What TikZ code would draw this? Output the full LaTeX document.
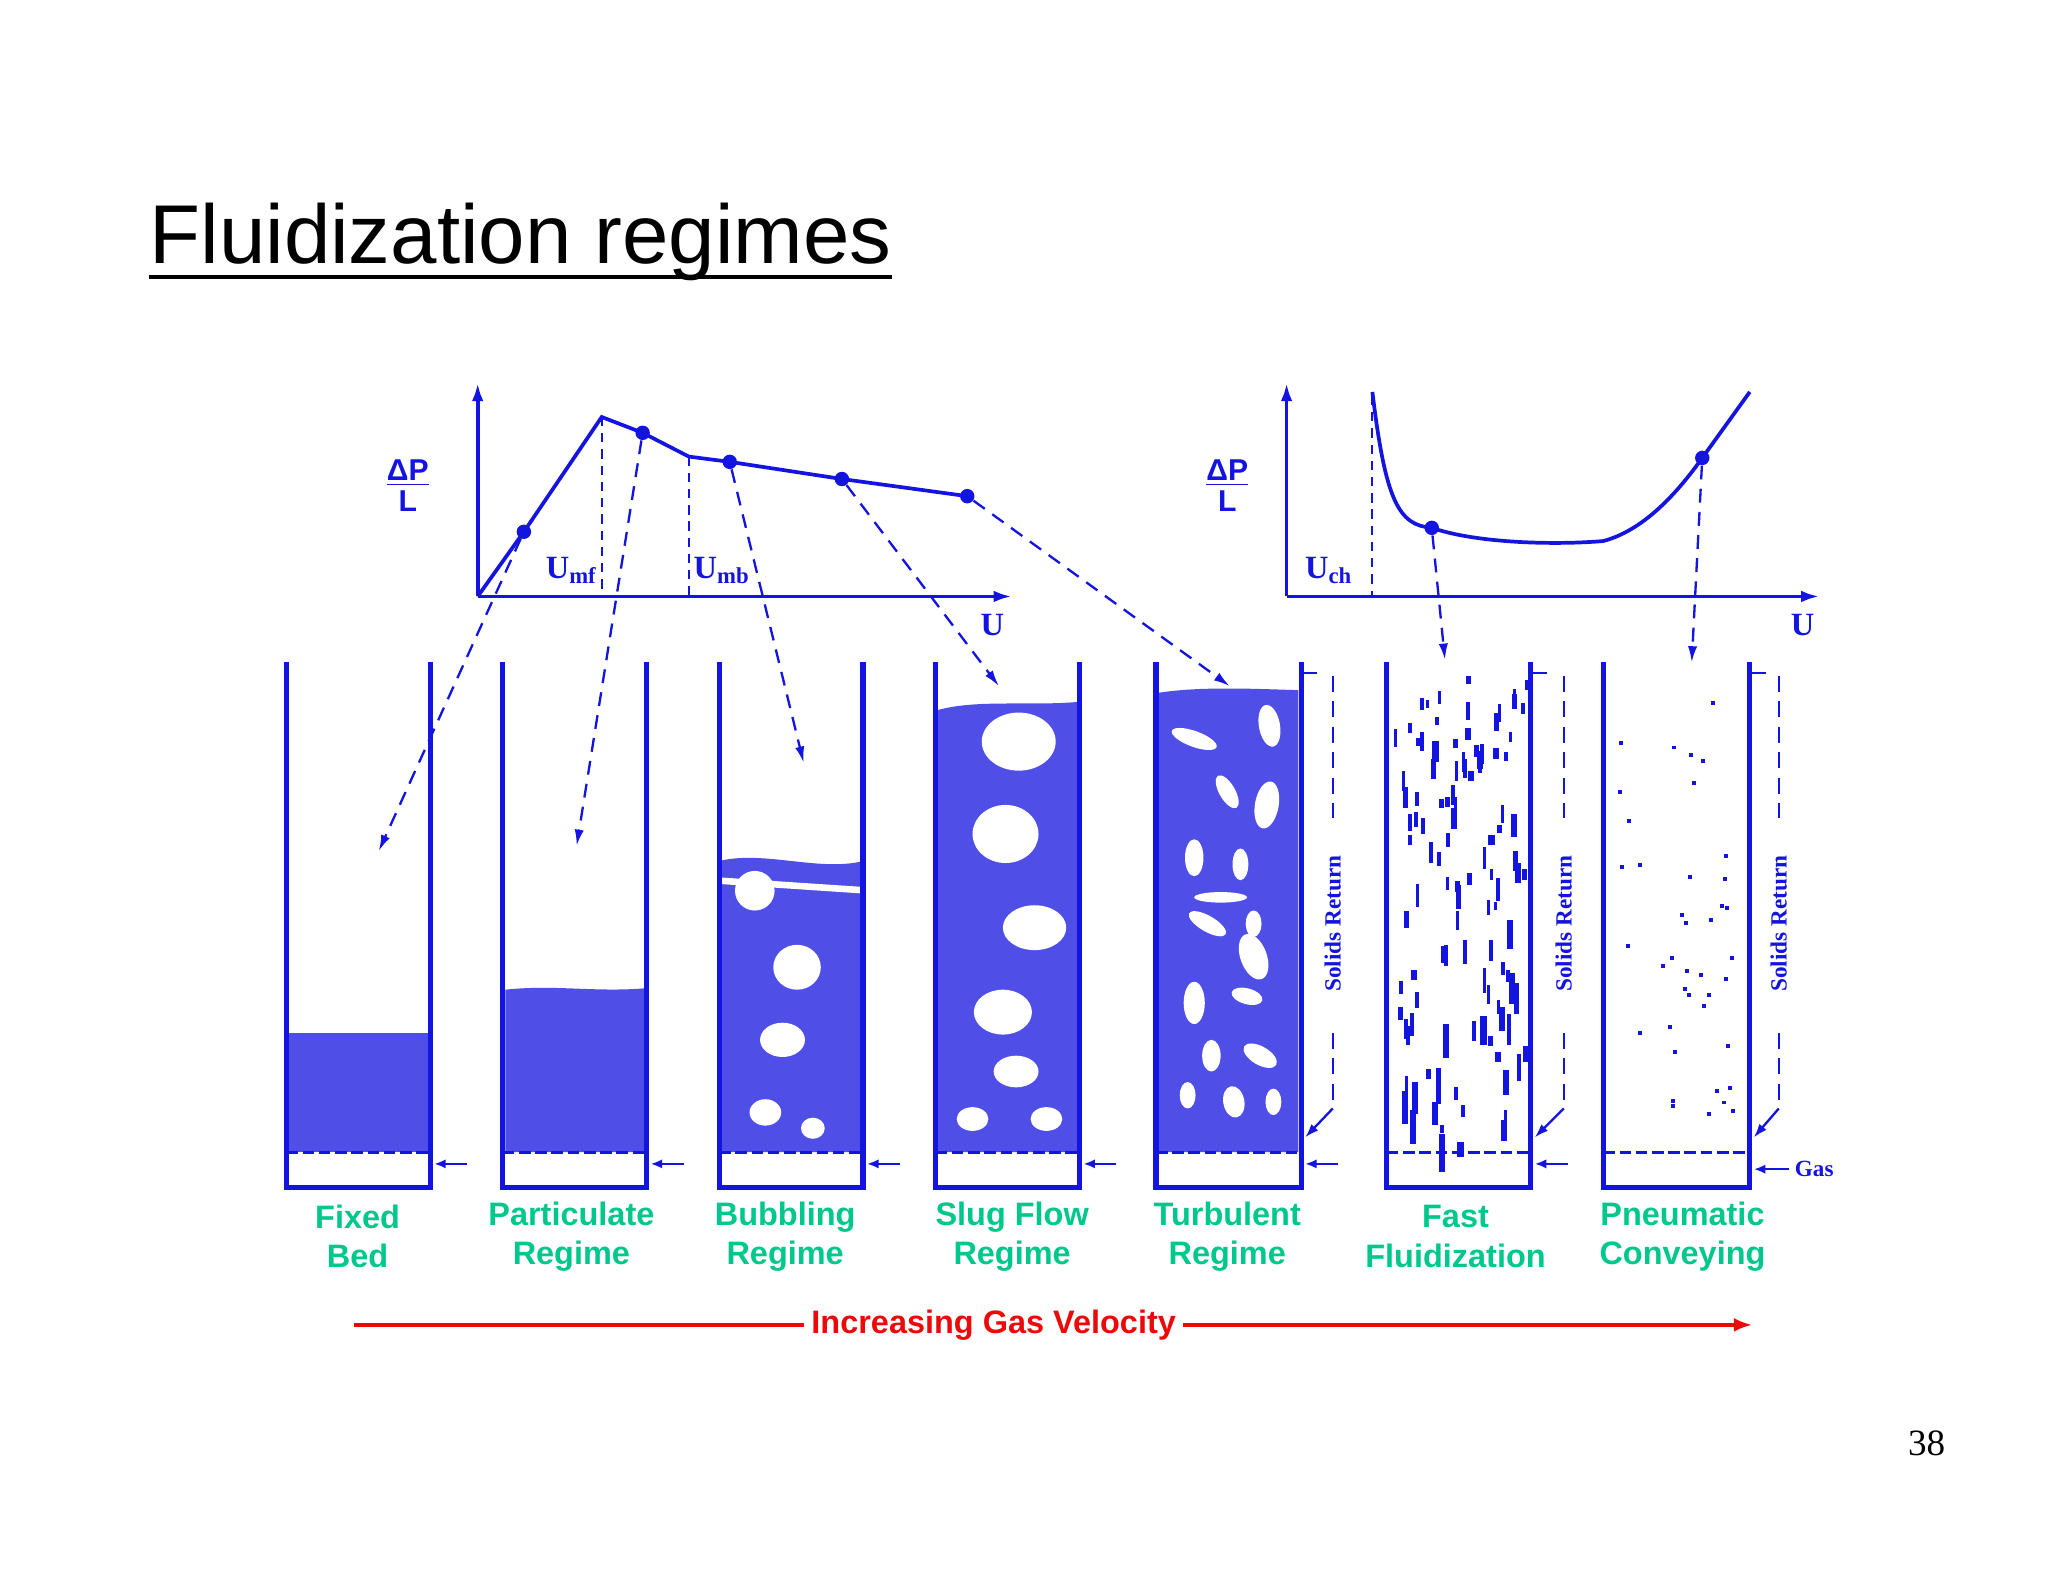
\documentclass[tikz,border=0pt]{standalone}
\usepackage{fontspec}
\setmainfont{Liberation Serif}
\setsansfont{Liberation Sans}
\usetikzlibrary{arrows.meta}
\definecolor{bl}{RGB}{20,20,225}
\definecolor{gr}{RGB}{0,200,140}
\definecolor{rd}{RGB}{235,10,10}
\begin{document}
\begin{tikzpicture}[x=0.02cm,y=-0.02cm,
  ax/.style={bl,line width=1.6pt,-{Latex[length=8pt,width=5pt]}},
  crv/.style={bl,line width=1.6pt},
  dsh/.style={bl,line width=1pt,dash pattern=on 6pt off 4pt,-{Latex[length=7pt,width=4pt]}},
  vd/.style={bl,line width=0.9pt,dash pattern=on 4pt off 3pt},
  wall/.style={bl,line width=2.2pt},
  bed/.style={fill=bl!75,draw=none},
  bub/.style={fill=white,draw=none},
  gas/.style={bl,line width=1pt,-{Latex[length=5pt,width=4pt]}},
  lab/.style={gr,font=\sffamily\bfseries\fontsize{14}{17}\selectfont,align=center},
  dot/.style={circle,fill=bl,inner sep=2.2pt},
  ret/.style={bl,line width=1pt,dash pattern=on 7pt off 4pt},
  frac/.style={bl,font=\sffamily\bfseries\fontsize{13}{13}\selectfont,align=center,inner sep=0},
  rt/.style={bl,font=\bfseries\fontsize{10}{12}\selectfont,rotate=90}]
\useasboundingbox[fill=white] (0,0) rectangle (1552,1200);
% title
\node[anchor=base west,inner sep=0,font=\sffamily\fontsize{36}{40}\selectfont] (title) at (113,200) {Fluidization regimes};
\draw[line width=2pt] (113,210) -- (676,210);
% left graph
\coordinate (o1) at (362,452);
\draw[ax] (o1) -- (362,290);
\draw[ax] (o1) -- (767,452);
\draw[crv] (o1) -- (397,403) -- (456,316) -- (487,328) -- (522,346) -- (553,350) -- (638,363) -- (733,376);
\draw[vd] (456,316) -- (456,452);
\draw[vd] (522,346) -- (522,452);
\node[dot] (p1) at (397,403) {};
\node[dot] (p2) at (487,328) {};
\node[dot] (p3) at (553,350) {};
\node[dot] (p4) at (638,363) {};
\node[dot] (p5) at (733,376) {};
\node[frac] (dp1) at (309,368) {\underline{ΔP}\\L};
\node[bl,font=\bfseries\fontsize{14}{16}\selectfont] (umf) at (433,432) {U\textsubscript{mf}};
\node[bl,font=\bfseries\fontsize{14}{16}\selectfont] (umb) at (547,432) {U\textsubscript{mb}};
\node[bl,font=\bfseries\fontsize{14}{16}\selectfont] (u1) at (752,474) {U};
\coordinate (t1) at (287,645);
\coordinate (t2) at (437,641);
\coordinate (t3) at (609,578);
\coordinate (t4) at (757,520);
\coordinate (t5) at (932,520);
\draw[dsh] (p1) -- (t1);
\draw[dsh] (p2) -- (t2);
\draw[dsh] (p3) -- (t3);
\draw[dsh] (p4) -- (t4);
\draw[dsh] (p5) -- (t5);
% right graph
\coordinate (o2) at (975,452);
\draw[ax] (o2) -- (975,290);
\draw[ax] (o2) -- (1379,452);
\draw[crv] (1040,297) .. controls (1050,380) and (1060,398) .. (1085,400) .. controls (1120,412) and (1180,413) .. (1215,410) .. controls (1245,402) and (1270,375) .. (1290,347) -- (1326,297);
\draw[vd] (1040,300) -- (1040,452);
\node[dot] (q1) at (1085,400) {};
\node[dot] (q2) at (1290,347) {};
\node[frac] (dp2) at (930,368) {\underline{ΔP}\\L};
\node[bl,font=\bfseries\fontsize{14}{16}\selectfont] (uch) at (1007,432) {U\textsubscript{ch}};
\node[bl,font=\bfseries\fontsize{14}{16}\selectfont] (u2) at (1366,474) {U};
\coordinate (t6) at (1095,500);
\coordinate (t7) at (1282,502);
\draw[dsh] (q1) -- (t6);
\draw[dsh] (q2) -- (t7);
% beds
\fill[bed] (219,783) -- (324,783) -- (324,873) -- (219,873) -- cycle;
\fill[bed] (383,750) .. controls (420,746) and (450,752) .. (488,749) -- (488,873) -- (383,873) -- cycle;
\fill[bed] (547,652) .. controls (580,645) and (620,660) .. (652,653) -- (652,873) -- (547,873) -- cycle;
\fill[bed] (711,538) .. controls (740,530) and (780,535) .. (816,532) -- (816,873) -- (711,873) -- cycle;
\fill[bed] (878,525) .. controls (910,520) and (950,522) .. (984,523) -- (984,873) -- (878,873) -- cycle;
% bubbling bubbles
\foreach \x/\y/\a/\b in {572/675/15/15,604/733/18/17,593/788/17/13,580/843/12/10,616/855/9/8}
  \fill[bub] (\x,\y) ellipse[x radius=\a,y radius=\b];
\fill[white] (547,665) -- (652,672) -- (652,677) -- (547,670) -- cycle;
% slug bubbles
\foreach \x/\y/\a/\b in {772/562/28/22,762/632/25/22,784/703/24/17,760/767/22/17,770/812/17/12,737/848/12/9,793/848/12/9}
  \fill[bub] (\x,\y) ellipse[x radius=\a,y radius=\b];
% turbulent voids
\foreach \x/\y/\a/\b/\r in {905/560/18/6/-20,962/550/8/16/10,930/600/6/14/30,960/610/9/18/-10,905/650/7/14/0,940/655/6/12/0,915/700/16/6/-30,950/725/10/18/20,905/760/8/16/0,945/755/12/6/-15,918/800/7/12/0,955/800/14/7/-30,900/830/6/10/0,935/835/8/12/10,965/835/6/10/0,950/700/6/10/0,925/680/20/4/0}
  \fill[bub,rotate around={\r:(\x,\y)}] (\x,\y) ellipse[x radius=\a,y radius=\b];
% fast fluidization streaks
\pgfmathsetseed{7}
\foreach \i in {1,...,110}{
  \pgfmathsetmacro{\xx}{1056+rnd*100}
  \pgfmathsetmacro{\yy}{505+rnd*365}
  \pgfmathsetmacro{\ll}{6+rnd*18*(0.4+(\yy-505)/365)}
  \fill[bl] (\xx,\yy) rectangle ++(2+rnd*3,\ll);
}
% pneumatic dots
\pgfmathsetseed{3}
\foreach \i in {1,...,40}{
  \pgfmathsetmacro{\xx}{1225+rnd*90}
  \pgfmathsetmacro{\yy}{510+rnd*340}
  \fill[bl] (\xx,\yy) rectangle ++(3,3);
}
% columns
\foreach \l/\r [count=\k] in {217/326,381/490,545/654,709/818,876/986,1051/1160,1215/1326}{
  \draw[wall] (\l,502) -- (\l,900) -- (\r,900) -- (\r,502);
  \draw[bl,line width=1.3pt,dash pattern=on 5pt off 2pt] (\l,873) -- (\r,873);
}
% gas arrows
\foreach \r in {326,490,654,818,986,1160}
  \draw[gas] (\r+28,882) -- (\r+3,882);
\draw[gas] (1356,886) -- (1329,886);
\node[bl,font=\bfseries\fontsize{10}{12}\selectfont,anchor=west] (gaslab) at (1354,886) {Gas};
% solids return
\foreach \w/\d in {986/1010,1160/1185,1326/1348}{
  \draw[bl,line width=1pt] (\w,510) -- (\w+12,510);
  \draw[ret] (\d,512) -- (\d,840);
  \draw[bl,line width=1pt,-{Latex[length=6pt,width=4pt]}] (\d,840) -- (\w+3,862);
  \fill[white] (\d-9,620) rectangle (\d+9,780);
  \node[rt] at (\d,700) {Solids Return};
}
% labels
\node[lab] (n1) at (271,937) {Fixed\\Bed};
\node[lab] (n2) at (433,937) {Particulate\\Regime};
\node[lab] (n3) at (595,937) {Bubbling\\Regime};
\node[lab] (n4) at (767,937) {Slug Flow\\Regime};
\node[lab] (n5) at (930,937) {Turbulent\\Regime};
\node[lab] (n6) at (1103,937) {Fast\\Fluidization};
\node[lab] (n7) at (1275,937) {Pneumatic\\Conveying};
% red arrow
\node[rd,font=\sffamily\bfseries\fontsize{14}{17}\selectfont,fill=white,inner sep=3pt] (igv) at (753,1004) {Increasing Gas Velocity};
\coordinate (ra) at (268,1004);
\coordinate (rb) at (1328,1004);
\draw[rd,line width=1.8pt] (ra) -- (igv.west);
\draw[rd,line width=1.8pt,-{Latex[length=8pt,width=6pt]}] (igv.east) -- (rb);
\node[font=\fontsize{16}{18}\selectfont] (pg) at (1460,1094) {38};
\end{tikzpicture}
\end{document}
